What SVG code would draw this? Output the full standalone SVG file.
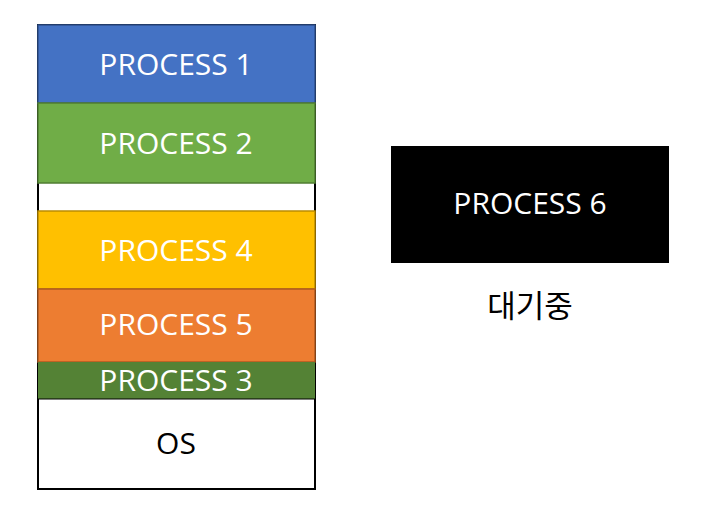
<svg xmlns="http://www.w3.org/2000/svg" width="704" height="520" viewBox="0 0 704 520">
<style>
.t{font-family:"Open Sans","Noto Sans","Noto Sans CJK KR",sans-serif;font-size:30px;text-anchor:middle}
.w{fill:#ffffff}
.k{fill:#000000}
.b{stroke-width:1.5}
</style>
<rect x="0" y="0" width="704" height="520" fill="#ffffff"/>
<g id="memory">
<rect x="38" y="25" width="277" height="464" fill="#ffffff" stroke="#000000" stroke-width="2"/>
</g>
<g id="p1">
<rect class="b" x="38" y="25" width="277" height="78" fill="#4472C4" stroke="#2F528F"/>
<text class="t w" x="176" y="75">PROCESS 1</text>
</g>
<g id="p2">
<rect class="b" x="38" y="103" width="277" height="80" fill="#70AD47" stroke="#507E32"/>
<text class="t w" x="176" y="154">PROCESS 2</text>
</g>
<g id="p4">
<rect class="b" x="38" y="211" width="277" height="78" fill="#FFC000" stroke="#BC8C00"/>
<text class="t w" x="176" y="261">PROCESS 4</text>
</g>
<g id="p5">
<rect class="b" x="38" y="289" width="277" height="73" fill="#ED7D31" stroke="#AE5A21"/>
<text class="t w" x="176" y="335">PROCESS 5</text>
</g>
<g id="p3">
<rect x="38" y="362" width="277" height="37" fill="#548235"/>
<text class="t w" x="176" y="391">PROCESS 3</text>
</g>
<g id="os">
<line x1="38" y1="399" x2="315" y2="399" stroke="#000000" stroke-width="1"/>
<text class="t k" x="176" y="454">OS</text>
</g>
<g id="p6">
<rect x="391" y="146" width="278" height="117" fill="#000000"/>
<text class="t w" x="530" y="214">PROCESS 6</text>
</g>
<g id="waiting">
<text class="t k" x="530" y="317" style="font-size:31px">대기중</text>
</g>
<g id="connectors"></g>
</svg>
